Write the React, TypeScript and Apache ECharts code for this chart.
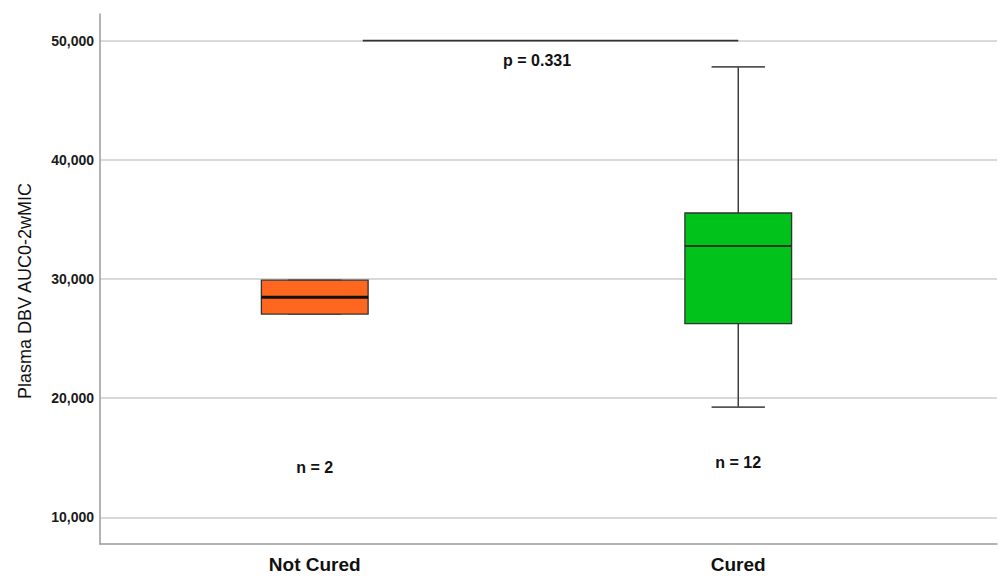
import React, { useEffect, useRef } from "react";
import * as echarts from "echarts";

const categories = ["Not Cured", "Cured"];
const whiskerLow = [27060, 19250];
const q1 = [27060, 26250];
const median = [28460, 32770];
const q3 = [29900, 35540];
const whiskerHigh = [29900, 47800];
const boxColors = ["#FF671F", "#00C21A"];
const sampleSizes = ["n = 2", "n = 12"];
const nLabelValue = [14170, 14590];
const yTicks = [10000, 20000, 30000, 40000, 50000];
const yMin = 7760;
const yMax = 52240;
const pText = "p = 0.331";
const pLineValue = 50000;
const pTextValue = 48300;
const yTitle = "Plasma DBV AUC0-2wMIC";

const FONT = "'Liberation Sans', Arial, sans-serif";

export default function App() {
  const ref = useRef<HTMLDivElement>(null);

  useEffect(() => {
    if (!ref.current) return;
    const chart = echarts.init(ref.current, undefined, { renderer: "svg" });
    const boxData = categories.map((_, i) => [
      i,
      whiskerLow[i],
      q1[i],
      median[i],
      q3[i],
      whiskerHigh[i],
    ]);
    const stroke = "#333333";
    chart.setOption({
      animation: false,
      backgroundColor: "#ffffff",
      grid: [
        { left: 100, right: 1, top: 14, bottom: 32 },
        { left: 103, width: 847, top: 14, bottom: 32 },
      ],
      xAxis: [
        {
          gridIndex: 0,
          type: "value",
          min: 0,
          max: 1,
          axisLine: { show: true, lineStyle: { color: "#9a9a9a", width: 1.5 } },
          axisTick: { show: false },
          axisLabel: { show: false },
          splitLine: { show: false },
        },
        {
          gridIndex: 1,
          type: "category",
          data: categories,
          axisLine: { show: false },
          axisTick: { show: false },
          axisLabel: {
            margin: 11,
            fontFamily: FONT,
            fontSize: 19,
            fontWeight: "bold",
            color: "#111111",
          },
        },
      ],
      yAxis: [
        {
          gridIndex: 0,
          type: "value",
          min: yMin,
          max: yMax,
          axisLine: { show: true, lineStyle: { color: "#9a9a9a", width: 1.5 } },
          axisTick: { show: false, customValues: yTicks },
          axisLabel: {
            customValues: yTicks,
            margin: 6,
            fontFamily: FONT,
            fontSize: 14,
            fontWeight: "bold",
            color: "#1a1a1a",
            formatter: (v: number) => v.toLocaleString("en-US"),
          },
          splitLine: { show: true, lineStyle: { color: "#cccccc", width: 1.5 } },
        },
        {
          gridIndex: 1,
          type: "value",
          min: yMin,
          max: yMax,
          show: false,
          splitLine: { show: false },
        },
      ],
      series: [
        {
          type: "custom",
          xAxisIndex: 1,
          yAxisIndex: 1,
          data: boxData,
          encode: { x: 0, y: [1, 2, 3, 4, 5] },
          renderItem: (params: any, api: any) => {
            const x = api.value(0);
            const pLo = api.coord([x, api.value(1)]);
            const pQ1 = api.coord([x, api.value(2)]);
            const pMed = api.coord([x, api.value(3)]);
            const pQ3 = api.coord([x, api.value(4)]);
            const pHi = api.coord([x, api.value(5)]);
            const band = api.size([1, 0])[0];
            const bw = band * 0.252;
            const cw = bw / 2;
            const cx = pMed[0];
            const idx = params.dataIndex;
            return {
              type: "group",
              children: [
                {
                  type: "line",
                  shape: { x1: cx, y1: pHi[1], x2: cx, y2: pQ3[1] },
                  style: { stroke, lineWidth: 1.4 },
                },
                {
                  type: "line",
                  shape: { x1: cx, y1: pQ1[1], x2: cx, y2: pLo[1] },
                  style: { stroke, lineWidth: 1.4 },
                },
                {
                  type: "line",
                  shape: { x1: cx - cw / 2, y1: pHi[1], x2: cx + cw / 2, y2: pHi[1] },
                  style: { stroke: "#555555", lineWidth: 1.6 },
                },
                {
                  type: "line",
                  shape: { x1: cx - cw / 2, y1: pLo[1], x2: cx + cw / 2, y2: pLo[1] },
                  style: { stroke: "#555555", lineWidth: 1.6 },
                },
                {
                  type: "rect",
                  shape: { x: cx - bw / 2, y: pQ3[1], width: bw, height: pQ1[1] - pQ3[1] },
                  style: { fill: boxColors[idx], stroke, lineWidth: 1.3 },
                },
                {
                  type: "line",
                  shape: { x1: cx - bw / 2, y1: pMed[1], x2: cx + bw / 2, y2: pMed[1] },
                  style: { stroke: idx === 0 ? "#111111" : "#1a3a1a", lineWidth: idx === 0 ? 3 : 2 },
                },
              ],
            };
          },
        },
      ],
    });

    const px = (c: number, v: number) =>
      chart.convertToPixel({ seriesIndex: 0 }, [c, v]) as number[];
    const p0 = px(0, pLineValue);
    const p1 = px(1, pLineValue);
    const pty = px(0, pTextValue)[1];
    const ptx = p0[0] + (p1[0] - p0[0]) * 0.525;
    const graphics: any[] = [
      {
        type: "line",
        shape: { x1: p0[0] + 48, y1: p0[1], x2: p1[0], y2: p1[1] },
        style: { stroke: "#333333", lineWidth: 1.8 },
        z: 10,
      },
      {
        type: "text",
        x: ptx,
        y: pty,
        style: {
          text: pText,
          align: "center",
          verticalAlign: "middle",
          fontFamily: FONT,
          fontSize: 16,
          fontWeight: "bold",
          fill: "#111111",
        },
        z: 10,
      },
      {
        type: "text",
        x: 25,
        y: 291,
        rotation: Math.PI / 2,
        style: {
          text: yTitle,
          align: "center",
          verticalAlign: "middle",
          fontFamily: FONT,
          fontSize: 18,
          fill: "#111111",
        },
      },
    ];
    categories.forEach((_, i) => {
      const p = px(i, nLabelValue[i]);
      graphics.push({
        type: "text",
        x: p[0],
        y: p[1],
        style: {
          text: sampleSizes[i],
          align: "center",
          verticalAlign: "middle",
          fontFamily: FONT,
          fontSize: 16,
          fontWeight: "bold",
          fill: "#111111",
        },
        z: 10,
      });
    });
    chart.setOption({ graphic: graphics });

    return () => chart.dispose();
  }, []);

  return (
    <div
      ref={ref}
      style={{ position: "fixed", left: 0, top: 0, width: 998, height: 576 }}
    />
  );
}
